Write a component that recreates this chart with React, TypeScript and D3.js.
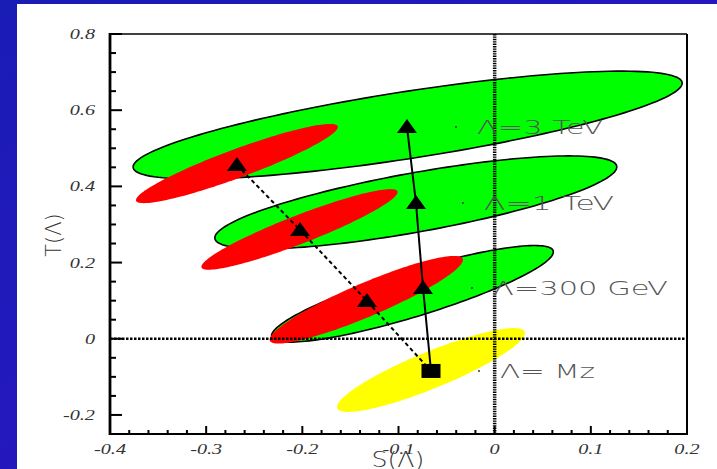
import React from 'react';
import * as d3 from 'd3';

// ---- axis ticks ----
const xMajorTicks = [-0.4, -0.3, -0.2, -0.1, 0, 0.1, 0.2];
const xTickLabels = ['-0.4', '-0.3', '-0.2', '-0.1', '0', '0.1', '0.2'];
const yMajorTicks = [-0.2, 0, 0.2, 0.4, 0.6, 0.8];
const yTickLabels = ['-0.2', '0', '0.2', '0.4', '0.6', '0.8'];

// ---- regions: tips (S1,T1) -> (S2,T2) and vertical half-thickness in T ----
const greenS1 = [-0.376, -0.291, -0.232];
const greenT1 = [0.451, 0.265, 0.008];
const greenS2 = [0.195, 0.127, 0.061];
const greenT2 = [0.671, 0.451, 0.228];
const greenH = [0.089, 0.079, 0.063];

const redS1 = [-0.373, -0.305, -0.234];
const redT1 = [0.364, 0.189, -0.002];
const redS2 = [-0.163, -0.101, -0.033];
const redT2 = [0.556, 0.385, 0.207];
const redH = [0.04, 0.04, 0.048];

const yellowS1 = [-0.164];
const yellowT1 = [-0.179];
const yellowS2 = [0.0315];
const yellowT2 = [0.015];
const yellowH = [0.052];

// ---- trajectories ----
const dashedS = [-0.268, -0.2024, -0.1328, -0.0662];
const dashedT = [0.456, 0.2856, 0.0992, -0.0845];
const solidS = [-0.0912, -0.0818, -0.0745, -0.0662];
const solidT = [0.556, 0.3564, 0.1333, -0.0845];

// ---- labels ----
const labelTexts = ['Λ=3 TeV', 'Λ=1 TeV', 'Λ=300 GeV', 'Λ= Mz'];
const labelS = [-0.0402, -0.033, -0.0236, -0.0163];
const labelT = [0.556, 0.3564, 0.1333, -0.0845];
const labelWidths = [126, 130, 175, 95];

const W = 717;
const H = 469;
const plot = { left: 110, right: 687, top: 34, bottom: 434 };

const x = d3.scaleLinear().domain([-0.4, 0.2]).range([plot.left, plot.right]);
const y = d3.scaleLinear().domain([-0.25, 0.8]).range([plot.bottom, plot.top]);

function ellipsePath(s1: number, t1: number, s2: number, t2: number, h: number) {
  const cS = (s1 + s2) / 2;
  const cT = (t1 + t2) / 2;
  const uS = (s2 - s1) / 2;
  const uT = (t2 - t1) / 2;
  const pts: [number, number][] = d3.range(0, 160).map((i) => {
    const a = (i / 160) * Math.PI * 2;
    return [x(cS + uS * Math.cos(a)), y(cT + uT * Math.cos(a) + h * Math.sin(a))];
  });
  return d3.line().curve(d3.curveLinearClosed)(pts) as string;
}

function tri(px: number, py: number) {
  return `M${px - 10},${py + 6}L${px + 10},${py + 6}L${px},${py - 8}Z`;
}

export default function App() {
  const xMinor = x.ticks(30);
  const yMinor = y.ticks(21);
  const lineGen = d3.line<[number, number]>().x((d) => x(d[0])).y((d) => y(d[1]));
  const dashedPts = dashedS.map((s, i) => [s, dashedT[i]] as [number, number]);
  const solidPts = solidS.map((s, i) => [s, solidT[i]] as [number, number]);
  const tickFont = { fontFamily: '"Liberation Serif", serif', fontStyle: 'italic', fontSize: 15, fill: '#333' } as const;

  return (
    <svg width={W} height={H} style={{ position: 'absolute', left: 0, top: 0 }}>
      <defs>
        <linearGradient id="bg" x1="0" y1="0" x2="1" y2="1">
          <stop offset="0" stopColor="#1a1cb6" />
          <stop offset="1" stopColor="#2e14c4" />
        </linearGradient>
      </defs>
      <rect x={0} y={0} width={W} height={H} fill="url(#bg)" />
      <rect x={17} y={4} width={W - 17} height={H - 4} fill="#ffffff" />

      {/* green regions */}
      {greenS1.map((s, i) => (
        <path key={'g' + i} d={ellipsePath(s, greenT1[i], greenS2[i], greenT2[i], greenH[i])} fill="#00ff00" stroke="#000" strokeWidth={1.6} />
      ))}
      {/* red regions */}
      {redS1.map((s, i) => (
        <path key={'r' + i} d={ellipsePath(s, redT1[i], redS2[i], redT2[i], redH[i])} fill="#ff0000" />
      ))}
      {/* yellow region */}
      {yellowS1.map((s, i) => (
        <path key={'y' + i} d={ellipsePath(s, yellowT1[i], yellowS2[i], yellowT2[i], yellowH[i])} fill="#ffff00" />
      ))}

      {/* zero lines */}
      <line x1={plot.left} x2={plot.right} y1={y(0)} y2={y(0)} stroke="#000" strokeWidth={2.6} strokeDasharray="2.5 1.5" />
      <line x1={x(0)} x2={x(0)} y1={plot.top} y2={plot.bottom} stroke="#000" strokeWidth={3.5} strokeDasharray="1.4 1" />

      {/* frame */}
      <line x1={plot.left} x2={plot.right} y1={plot.top} y2={plot.top} stroke="#000" strokeWidth={1.7} />
      <line x1={plot.right} x2={plot.right} y1={plot.top} y2={plot.bottom} stroke="#000" strokeWidth={2} />
      <line x1={plot.left} x2={plot.left} y1={plot.top - 1} y2={plot.bottom + 1} stroke="#000" strokeWidth={2.8} />
      <line x1={plot.left - 1} x2={plot.right + 1} y1={plot.bottom} y2={plot.bottom} stroke="#000" strokeWidth={2.2} />

      {/* x ticks */}
      {xMinor.map((t, i) => {
        const major = xMajorTicks.some((m) => Math.abs(m - t) < 1e-6);
        return <line key={'xt' + i} x1={x(t)} x2={x(t)} y1={plot.bottom} y2={plot.bottom - (major ? 8 : 4)} stroke="#000" strokeWidth={2} />;
      })}
      {/* y ticks */}
      {yMinor.map((t, i) => {
        const major = yMajorTicks.some((m) => Math.abs(m - t) < 1e-6);
        return <line key={'yt' + i} x1={plot.left} x2={plot.left + (major ? 12 : 6)} y1={y(t)} y2={y(t)} stroke="#000" strokeWidth={2} />;
      })}

      {/* tick labels */}
      {xMajorTicks.map((t, i) => (
        <text key={'xl' + i} transform={`translate(${x(t)},${plot.bottom + 20}) scale(1.35,1)`} textAnchor="middle" {...tickFont}>
          {xTickLabels[i]}
        </text>
      ))}
      {yMajorTicks.map((t, i) => (
        <text key={'yl' + i} transform={`translate(${plot.left - 15},${y(t) + 5}) scale(1.35,1)`} textAnchor="end" {...tickFont}>
          {yTickLabels[i]}
        </text>
      ))}

      {/* axis titles */}
      <text transform={`translate(398,467) scale(1.2,1)`} textAnchor="middle" fontFamily='"DejaVu Sans ExtraLight", "DejaVu Sans", sans-serif' fontWeight={200} fontSize={21} fill="#333">
        S(Λ)
      </text>
      <text transform={`translate(61,235) rotate(-90)`} textAnchor="middle" fontFamily='"DejaVu Sans ExtraLight", "DejaVu Sans", sans-serif' fontWeight={200} fontSize={21} fill="#333">
        T(Λ)
      </text>

      {/* trajectories */}
      <path d={lineGen(dashedPts) as string} fill="none" stroke="#000" strokeWidth={2} strokeDasharray="4 3" />
      <path d={lineGen(solidPts) as string} fill="none" stroke="#000" strokeWidth={2} />
      {dashedPts.slice(0, 3).map((p, i) => (
        <path key={'dt' + i} d={tri(x(p[0]), y(p[1]))} fill="#000" />
      ))}
      {solidPts.slice(0, 3).map((p, i) => (
        <path key={'st' + i} d={tri(x(p[0]), y(p[1]))} fill="#000" />
      ))}
      <rect x={x(dashedS[3]) - 9.5} y={y(dashedT[3]) - 7} width={19} height={14} fill="#000" />

      {/* labels */}
      {labelTexts.map((txt, i) => (
        <g key={'lb' + i}>
          <circle cx={x(labelS[i])} cy={y(labelT[i])} r={1} fill="#333" />
          <text
            x={x(labelS[i]) + 21}
            y={y(labelT[i]) + 7}
            textLength={labelWidths[i]}
            lengthAdjust="spacingAndGlyphs"
            fontFamily='"DejaVu Sans ExtraLight", "DejaVu Sans", sans-serif'
            fontWeight={200}
            fontSize={20}
            fill="#555"
          >
            {txt}
          </text>
        </g>
      ))}
    </svg>
  );
}
